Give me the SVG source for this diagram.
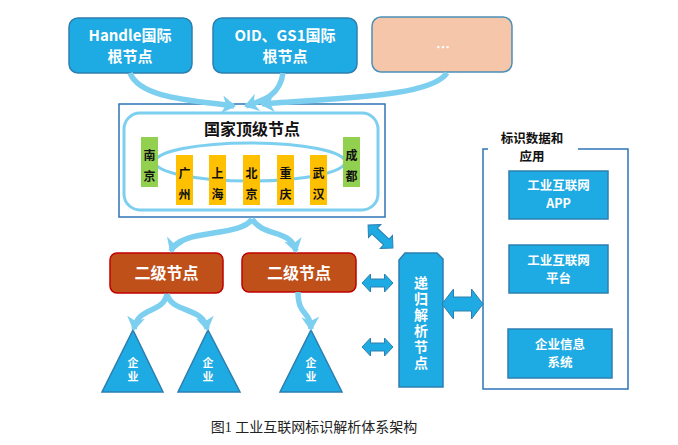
<svg xmlns="http://www.w3.org/2000/svg" width="678" height="445" viewBox="0 0 678 445">
<style>
.t{font-family:"Noto Sans CJK SC","Noto Sans",sans-serif;font-weight:bold;text-anchor:middle}
.v{writing-mode:vertical-rl}
.w{fill:#ffffff}
.k{fill:#111111}
.blue{fill:#1eaae2;stroke:#2d7fb0;stroke-width:1.5}
.conn{fill:none;stroke:#7dcff0;stroke-width:5.5;stroke-linecap:butt}
.dbl{fill:#1eaae2;stroke:#2d7fb0;stroke-width:1}
.gr{fill:#92d050}
.ye{fill:#ffc000}
.c12{font-size:12px;letter-spacing:9px}
</style>
<defs>
<marker id="ah" markerUnits="userSpaceOnUse" markerWidth="16" markerHeight="18" refX="12" refY="9" orient="auto">
<path d="M0,0 L14,9 L0,18 L4,9 Z" fill="#7dcff0"/>
</marker>
</defs>
<rect width="678" height="445" fill="#ffffff"/>

<g id="root-handle">
<rect x="69" y="18" width="123" height="55" rx="9" class="blue"/>
<text class="t w" font-size="15"><tspan x="130" y="41">Handle国际</tspan><tspan x="130" y="62">根节点</tspan></text>
</g>
<g id="root-oid">
<rect x="213" y="18" width="144" height="55" rx="9" class="blue"/>
<text class="t w" font-size="15"><tspan x="285" y="41">OID、GS1国际</tspan><tspan x="285" y="62">根节点</tspan></text>
</g>
<g id="root-more">
<rect x="372" y="17" width="140" height="55" rx="9" fill="#f5c6aa" stroke="#4a90b8" stroke-width="1.5"/>
<text x="443" y="52" class="t w" font-size="14">…</text>
</g>

<g id="top-level">
<rect x="119" y="104" width="266" height="113" fill="#ffffff" stroke="#2e75b6" stroke-width="1.5"/>
<rect x="124" y="113" width="254" height="97" rx="16" fill="none" stroke="#7dcff0" stroke-width="3"/>
<text x="252" y="135" class="t k" font-size="16">国家顶级节点</text>
<ellipse cx="250" cy="162" rx="95" ry="19" fill="none" stroke="#7dcff0" stroke-width="3"/>
<rect x="141" y="137" width="17" height="50" class="gr"/>
<text x="149.5" y="170" class="t k v c12">南京</text>
<rect x="343" y="137" width="17" height="50" class="gr"/>
<text x="351.5" y="170" class="t k v c12">成都</text>
<rect x="176" y="155" width="17" height="50" class="ye"/>
<text x="184.5" y="188" class="t k v c12">广州</text>
<rect x="209" y="155" width="17" height="50" class="ye"/>
<text x="217.5" y="188" class="t k v c12">上海</text>
<rect x="243" y="155" width="17" height="50" class="ye"/>
<text x="251.5" y="188" class="t k v c12">北京</text>
<rect x="277" y="155" width="17" height="50" class="ye"/>
<text x="285.5" y="188" class="t k v c12">重庆</text>
<rect x="310" y="155" width="17" height="50" class="ye"/>
<text x="318.5" y="188" class="t k v c12">武汉</text>
</g>

<g id="second-1">
<rect x="110" y="253" width="113" height="40" rx="7" fill="#c0501a" stroke="#c00000" stroke-width="1.5"/>
<text x="166.5" y="279" class="t w" font-size="16">二级节点</text>
</g>
<g id="second-2">
<rect x="242" y="253" width="114" height="39" rx="7" fill="#c0501a" stroke="#c00000" stroke-width="1.5"/>
<text x="299" y="279" class="t w" font-size="16">二级节点</text>
</g>

<g id="ent-1">
<polygon points="133,330 163,392 102,392" class="blue"/>
<text x="133" y="371" class="t w v" font-size="11" style="letter-spacing:3px">企业</text>
</g>
<g id="ent-2">
<polygon points="208,330 240,392 178,392" class="blue"/>
<text x="208" y="371" class="t w v" font-size="11" style="letter-spacing:3px">企业</text>
</g>
<g id="ent-3">
<polygon points="311,330 342,392 280,392" class="blue"/>
<text x="311" y="371" class="t w v" font-size="11" style="letter-spacing:3px">企业</text>
</g>

<g id="recursive">
<polygon points="399,260 405,253 437,253 443,259 443,387 399,387" class="blue"/>
<text x="421" y="324" class="t w v" font-size="14" style="letter-spacing:2px">递归解析节点</text>
</g>

<g id="apps">
<path d="M488,149 L483,149 L483,389 L628,389 L628,149 L578,149" fill="none" stroke="#2e75b6" stroke-width="1.5"/>
<text class="t k" font-size="12.5"><tspan x="532" y="143">标识数据和</tspan><tspan x="532" y="161">应用</tspan></text>
</g>
<g id="app-1">
<rect x="509" y="171" width="99" height="48" class="blue"/>
<text class="t w" font-size="12.5"><tspan x="558.5" y="190">工业互联网</tspan><tspan x="558.5" y="208">APP</tspan></text>
</g>
<g id="app-2">
<rect x="509" y="245" width="99" height="48" class="blue"/>
<text class="t w" font-size="12.5"><tspan x="558.5" y="265">工业互联网</tspan><tspan x="558.5" y="283">平台</tspan></text>
</g>
<g id="app-3">
<rect x="508" y="329" width="104" height="49" class="blue"/>
<text class="t w" font-size="12.5"><tspan x="560" y="349">企业信息</tspan><tspan x="560" y="367">系统</tspan></text>
</g>

<g id="connectors">
<path class="conn" d="M130,73 C140,98 190,100 234,106" marker-end="url(#ah)"/>
<path class="conn" d="M283,73 C280,95 265,100 246,106" marker-end="url(#ah)"/>
<path class="conn" d="M447,73 C430,98 330,98 262,104" marker-end="url(#ah)"/>
<path class="conn" d="M252,219 C240,238 180,228 171,251" marker-end="url(#ah)"/>
<path class="conn" d="M252,219 C264,238 290,228 296,251" marker-end="url(#ah)"/>
<path class="conn" d="M167,294 C163,314 138,306 134,329" marker-end="url(#ah)"/>
<path class="conn" d="M167,294 C172,314 203,306 207,329" marker-end="url(#ah)"/>
<path class="conn" d="M298,292 C298,316 310,310 311,329" marker-end="url(#ah)"/>
<polygon class="dbl" transform="translate(380.5,236.5) rotate(43)" points="-17,0 -8,-9 -8,-4 8,-4 8,-9 17,0 8,9 8,4 -8,4 -8,9"/>
<polygon class="dbl" transform="translate(377.5,283)" points="-15.5,0 -7,-9 -7,-4 7,-4 7,-9 15.5,0 7,9 7,4 -7,4 -7,9"/>
<polygon class="dbl" transform="translate(377.5,347)" points="-15.5,0 -7,-9 -7,-4 7,-4 7,-9 15.5,0 7,9 7,4 -7,4 -7,9"/>
<polygon class="dbl" transform="translate(462.5,304)" points="-20.5,0 -9,-15 -9,-7 9,-7 9,-15 20.5,0 9,15 9,7 -9,7 -9,15"/>
</g>

<text x="314" y="432" font-family="Liberation Serif,'Noto Sans CJK SC',serif" font-size="14" text-anchor="middle" fill="#222222">图1  工业互联网标识解析体系架构</text>
</svg>
